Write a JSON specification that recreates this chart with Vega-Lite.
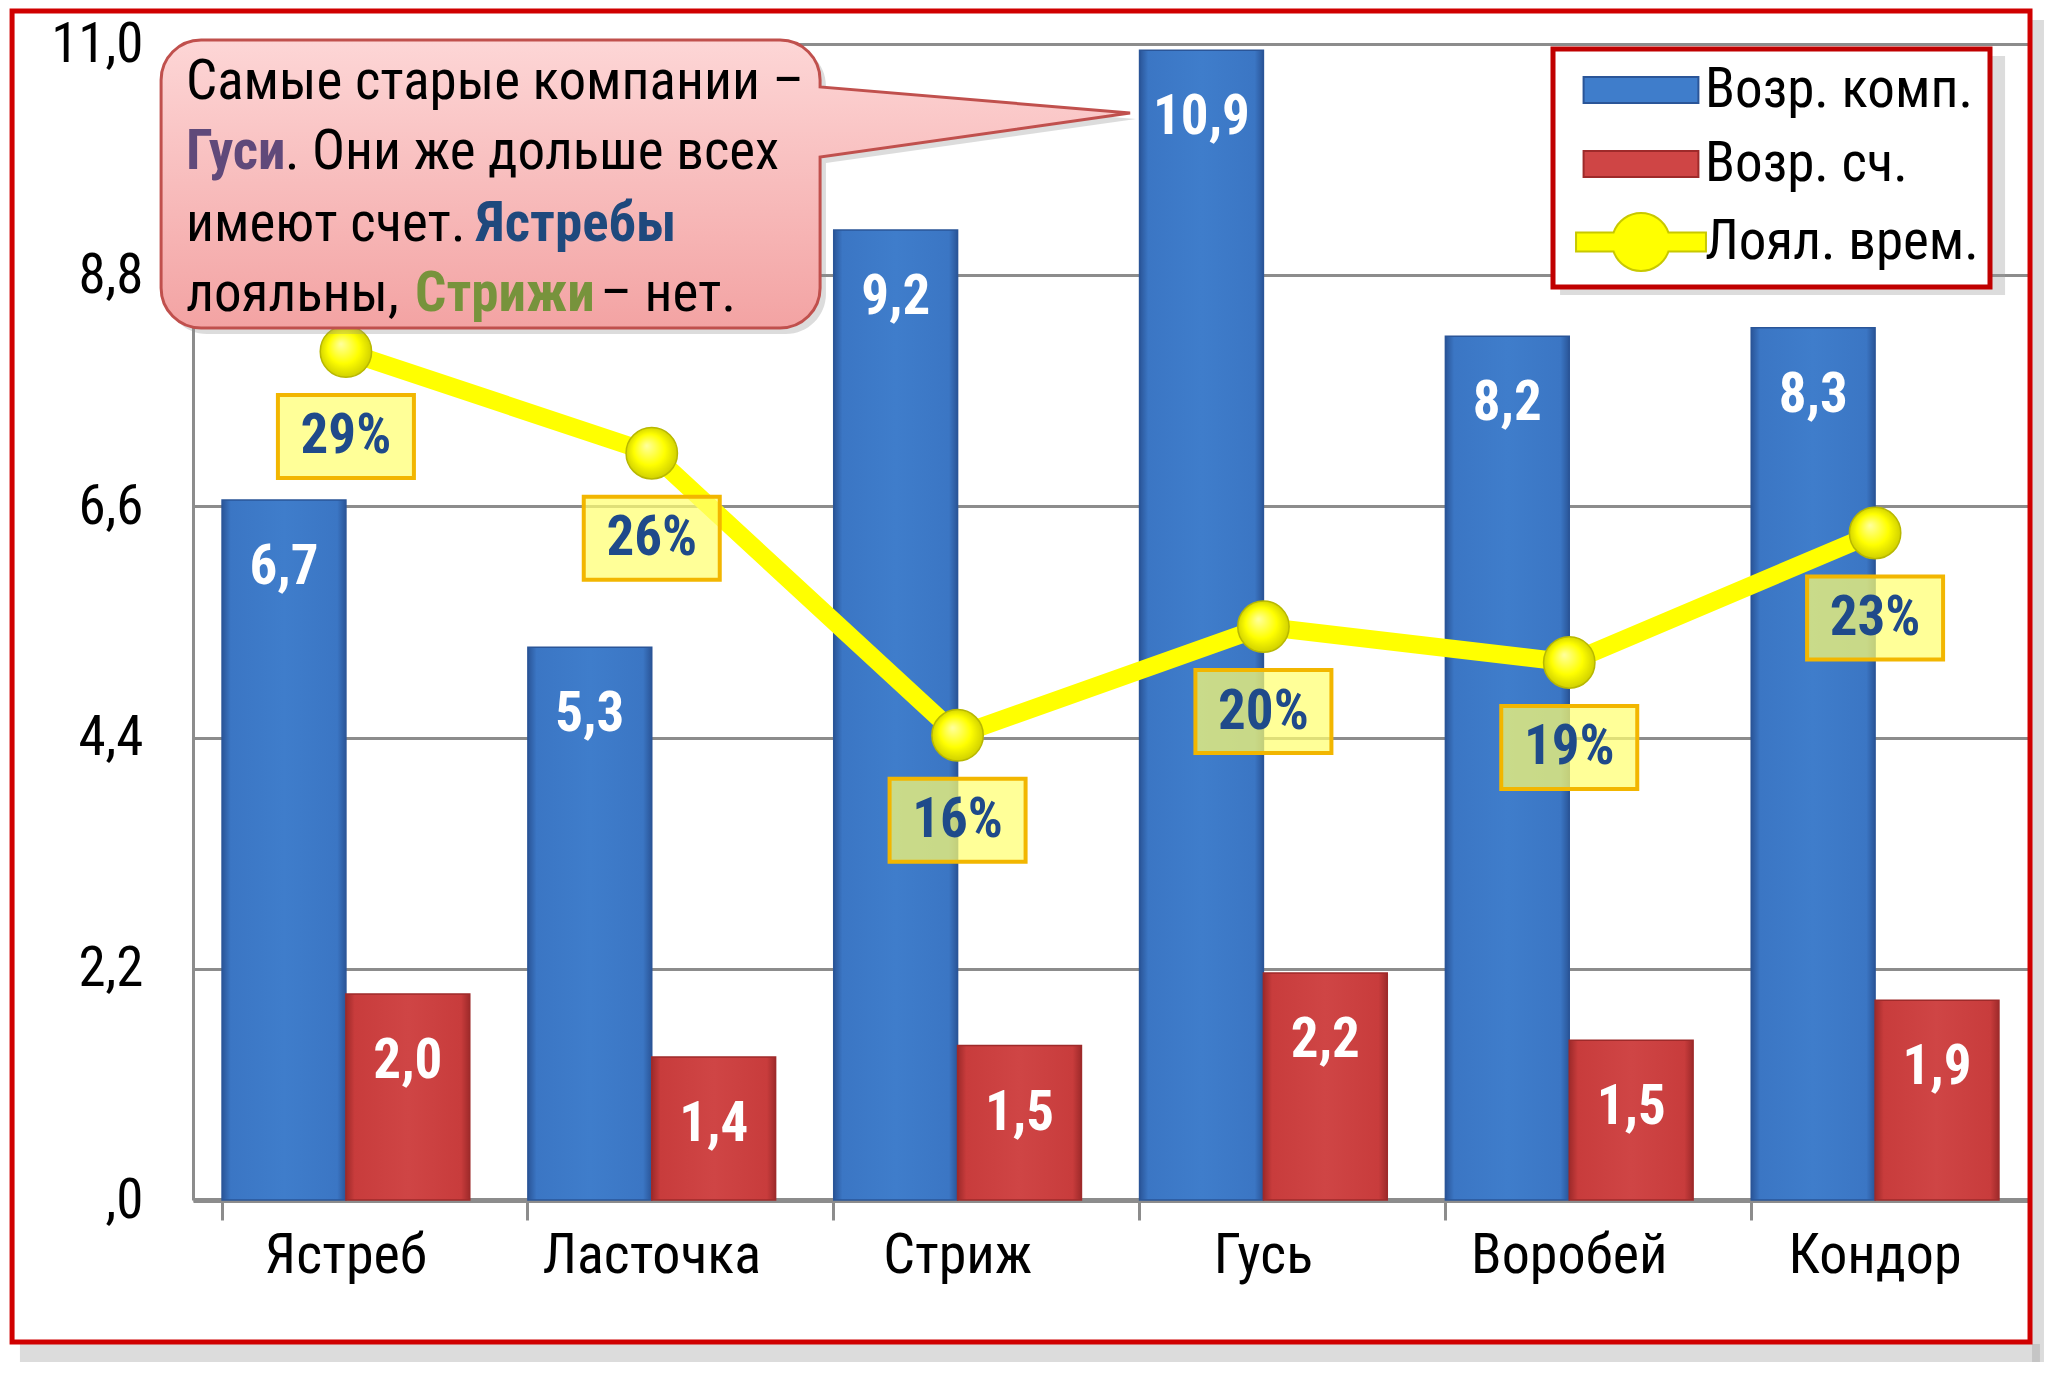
{
  "$schema": "https://vega.github.io/schema/vega-lite/v6.json",
  "width": 1835,
  "height": 1156,
  "autosize": {"type": "none"},
  "padding": {"left": 193, "top": 44, "right": 39, "bottom": 179},
  "background": "white",
  "config": {
    "locale": {"number": {"decimal": ",", "thousands": " ", "grouping": [3], "currency": ["", ""]}},
    "view": {"stroke": null},
    "font": "Roboto Condensed, Open Sans Condensed, DejaVu Sans Condensed, Liberation Sans",
    "text": {"font": "Roboto Condensed, Open Sans Condensed, DejaVu Sans Condensed, Liberation Sans"}
  },
  "datasets": {
    "bars": [
      {"bird": "Ястреб", "series": "Возр. комп.", "value": 6.66},
      {"bird": "Ястреб", "series": "Возр. сч.", "value": 1.96},
      {"bird": "Ласточка", "series": "Возр. комп.", "value": 5.26},
      {"bird": "Ласточка", "series": "Возр. сч.", "value": 1.36},
      {"bird": "Стриж", "series": "Возр. комп.", "value": 9.23},
      {"bird": "Стриж", "series": "Возр. сч.", "value": 1.47},
      {"bird": "Гусь", "series": "Возр. комп.", "value": 10.94},
      {"bird": "Гусь", "series": "Возр. сч.", "value": 2.16},
      {"bird": "Воробей", "series": "Возр. комп.", "value": 8.22},
      {"bird": "Воробей", "series": "Возр. сч.", "value": 1.52},
      {"bird": "Кондор", "series": "Возр. комп.", "value": 8.3},
      {"bird": "Кондор", "series": "Возр. сч.", "value": 1.9}
    ],
    "loyal": [
      {"bird": "Ястреб", "share": 0.2936},
      {"bird": "Ласточка", "share": 0.2584},
      {"bird": "Стриж", "share": 0.1608},
      {"bird": "Гусь", "share": 0.1984},
      {"bird": "Воробей", "share": 0.186},
      {"bird": "Кондор", "share": 0.2308}
    ],
    "series": [
      {"series": "Возр. комп."},
      {"series": "Возр. сч."},
      {"series": "Лоял. врем."}
    ]
  },
  "layer": [
    {
      "layer": [
        {
          "data": {"name": "bars"},
          "encoding": {
            "x": {
              "field": "bird",
              "type": "nominal",
              "sort": ["Ястреб", "Ласточка", "Стриж", "Гусь", "Воробей", "Кондор"],
              "scale": {"domain": ["Ястреб", "Ласточка", "Стриж", "Гусь", "Воробей", "Кондор"], "paddingInner": 0.19, "paddingOuter": 0.095},
              "axis": {
                "title": null,
                "bandPosition": 0,
                "labelAngle": 0,
                "labelLimit": 600,
                "labelFontSize": 56,
                "labelColor": "black",
                "labelPadding": 8,
                "domainColor": "#8C8C8C",
                "domainWidth": 5,
                "ticks": true,
                "tickSize": 20,
                "tickWidth": 3,
                "tickColor": "#8C8C8C",
                "grid": false
              }
            },
            "xOffset": {
              "field": "series",
              "type": "nominal",
              "scale": {"domain": ["Возр. комп.", "Возр. сч."], "paddingInner": 0, "paddingOuter": 0}
            },
            "y": {
              "field": "value",
              "type": "quantitative",
              "scale": {"domain": [0, 11], "nice": false, "zero": true},
              "axis": {
                "title": null,
                "values": [0, 2.2, 4.4, 6.6, 8.8, 11],
                "labelExpr": "datum.value == 0 ? ',0' : format(datum.value, '.1f')",
                "labelFontSize": 55,
                "labelColor": "black",
                "labelPadding": 50,
                "ticks": false,
                "tickSize": 0,
                "domainColor": "#8C8C8C",
                "domainWidth": 3,
                "grid": true,
                "gridColor": "#8C8C8C",
                "gridWidth": 3
              }
            }
          },
          "layer": [
            {
              "mark": {"type": "bar", "strokeWidth": 1.5},
              "encoding": {
                "fill": {
                  "condition": {
                    "test": "datum.series == 'Возр. комп.'",
                    "value": {
                      "gradient": "linear", "x1": 0, "y1": 0, "x2": 1, "y2": 0,
                      "stops": [
                        {"offset": 0, "color": "#2A5598"},
                        {"offset": 0.07, "color": "#3B76C4"},
                        {"offset": 0.5, "color": "#3F7DCB"},
                        {"offset": 0.93, "color": "#3B76C4"},
                        {"offset": 1, "color": "#2A5598"}
                      ]
                    }
                  },
                  "value": {
                    "gradient": "linear", "x1": 0, "y1": 0, "x2": 1, "y2": 0,
                    "stops": [
                      {"offset": 0, "color": "#9E2A2A"},
                      {"offset": 0.07, "color": "#C83C3C"},
                      {"offset": 0.5, "color": "#CF4545"},
                      {"offset": 0.93, "color": "#C83C3C"},
                      {"offset": 1, "color": "#9E2A2A"}
                    ]
                  }
                },
                "stroke": {
                  "condition": {"test": "datum.series == 'Возр. комп.'", "value": "#2A5598"},
                  "value": "#9E2A2A"
                }
              }
            },
            {
              "mark": {"type": "text", "baseline": "alphabetic", "dy": 84, "fontSize": 55, "fontWeight": "bold", "color": "white"},
              "encoding": {
                "text": {"field": "value", "type": "quantitative", "format": ".1f"}
              }
            }
          ]
        },
        {
          "data": {"name": "loyal"},
          "encoding": {
            "x": {
              "field": "bird",
              "type": "nominal",
              "sort": ["Ястреб", "Ласточка", "Стриж", "Гусь", "Воробей", "Кондор"],
              "scale": {"domain": ["Ястреб", "Ласточка", "Стриж", "Гусь", "Воробей", "Кондор"], "paddingInner": 0.19, "paddingOuter": 0.095}
            },
            "y": {
              "field": "share",
              "type": "quantitative",
              "scale": {"domain": [0, 0.4], "nice": false},
              "axis": null
            }
          },
          "layer": [
            {
              "mark": {"type": "line", "color": "#FFFF00", "strokeWidth": 18, "strokeCap": "round", "strokeJoin": "round"}
            },
            {
              "mark": {
                "type": "point",
                "filled": true,
                "size": 2640,
                "opacity": 1,
                "stroke": "#B8B800",
                "strokeWidth": 1.5,
                "fill": {
                  "gradient": "radial", "x1": 0.4, "y1": 0.35, "r1": 0, "x2": 0.5, "y2": 0.5, "r2": 0.55,
                  "stops": [
                    {"offset": 0, "color": "#FFFFA0"},
                    {"offset": 0.55, "color": "#FFFF00"},
                    {"offset": 1, "color": "#C8C800"}
                  ]
                }
              }
            },
            {
              "mark": {
                "type": "point",
                "shape": "M-1.36,0.87H1.36V2.53H-1.36Z",
                "size": 10000,
                "filled": true,
                "fill": "#FFFF70",
                "fillOpacity": 0.72,
                "opacity": 1,
                "stroke": "#F2B600",
                "strokeWidth": 4
              }
            },
            {
              "mark": {"type": "text", "baseline": "middle", "dy": 85, "fontSize": 55, "fontWeight": "bold", "color": "#1F4A8A"},
              "encoding": {
                "text": {"field": "share", "type": "quantitative", "format": ".0%"}
              }
            }
          ]
        }
      ],
      "resolve": {"scale": {"y": "independent"}}
    },
    {
      "data": {"values": [{}]},
      "layer": [
        {
          "mark": {"type": "rect", "fill": "#9A9A9A", "opacity": 0.35},
          "encoding": {
            "x": {"datum": -0.0943, "type": "quantitative", "scale": {"domain": [0, 1], "nice": false, "zero": false}, "axis": null},
            "x2": {"datum": 1.0065},
            "y": {"datum": -0.1246, "type": "quantitative", "scale": {"domain": [0, 1], "nice": false, "zero": false}, "axis": null},
            "y2": {"datum": -0.1401}
          }
        },
        {
          "mark": {"type": "rect", "fill": "#9A9A9A", "opacity": 0.35},
          "encoding": {
            "x": {"datum": 1.0022, "type": "quantitative", "scale": {"domain": [0, 1], "nice": false, "zero": false}, "axis": null},
            "x2": {"datum": 1.0087},
            "y": {"datum": 1.0208, "type": "quantitative", "scale": {"domain": [0, 1], "nice": false, "zero": false}, "axis": null},
            "y2": {"datum": -0.1401}
          }
        },
        {
          "mark": {"type": "rect", "fill": null, "stroke": "#D00000", "strokeWidth": 5},
          "encoding": {
            "x": {"datum": -0.0986, "type": "quantitative", "scale": {"domain": [0, 1], "nice": false, "zero": false}, "axis": null},
            "x2": {"datum": 1.0011},
            "y": {"datum": 1.0285, "type": "quantitative", "scale": {"domain": [0, 1], "nice": false, "zero": false}, "axis": null},
            "y2": {"datum": -0.1228}
          }
        },
        {
          "mark": {"type": "rect", "fill": "#9A9A9A", "opacity": 0.35},
          "encoding": {
            "x": {"datum": 0.745, "type": "quantitative", "scale": {"domain": [0, 1], "nice": false, "zero": false}, "axis": null},
            "x2": {"datum": 0.9875},
            "y": {"datum": 0.9896, "type": "quantitative", "scale": {"domain": [0, 1], "nice": false, "zero": false}, "axis": null},
            "y2": {"datum": 0.7829}
          }
        },
        {
          "mark": {
            "type": "point",
            "shape": "M-2.89,-1.44H2.9A0.4,0.4 0 0,1 3.3,-1.04V-0.97L6.4,-0.71L3.3,-0.27V1.04A0.4,0.4 0 0,1 2.9,1.44H-2.89A0.4,0.4 0 0,1 -3.29,1.04V-1.04A0.4,0.4 0 0,1 -2.89,-1.44Z",
            "size": 40000,
            "filled": true,
            "fill": "#8A8A8A",
            "opacity": 0.3,
            "strokeWidth": 0
          },
          "encoding": {
            "x": {"datum": 0.1651, "type": "quantitative", "scale": {"domain": [0, 1], "nice": false, "zero": false}, "axis": null},
            "y": {"datum": 0.8737, "type": "quantitative", "scale": {"domain": [0, 1], "nice": false, "zero": false}, "axis": null}
          }
        },
        {
          "mark": {
            "type": "point",
            "shape": "M-2.89,-1.44H2.9A0.4,0.4 0 0,1 3.3,-1.04V-0.97L6.4,-0.71L3.3,-0.27V1.04A0.4,0.4 0 0,1 2.9,1.44H-2.89A0.4,0.4 0 0,1 -3.29,1.04V-1.04A0.4,0.4 0 0,1 -2.89,-1.44Z",
            "size": 40000,
            "filled": true,
            "opacity": 1,
            "fill": {
              "gradient": "linear", "x1": 0, "y1": 0, "x2": 0, "y2": 1,
              "stops": [
                {"offset": 0, "color": "#FDD6D6"},
                {"offset": 1, "color": "#F3A3A3"}
              ]
            },
            "stroke": "#C0504D",
            "strokeWidth": 3
          },
          "encoding": {
            "x": {"datum": 0.1619, "type": "quantitative", "scale": {"domain": [0, 1], "nice": false, "zero": false}, "axis": null},
            "y": {"datum": 0.8789, "type": "quantitative", "scale": {"domain": [0, 1], "nice": false, "zero": false}, "axis": null}
          }
        },
        {
          "mark": {"type": "text", "align": "left", "baseline": "alphabetic", "fontSize": 55, "color": "black", "text": "Самые старые компании –"},
          "encoding": {
            "x": {"datum": -0.0038, "type": "quantitative", "scale": {"domain": [0, 1], "nice": false, "zero": false}, "axis": null},
            "y": {"datum": 0.9524, "type": "quantitative", "scale": {"domain": [0, 1], "nice": false, "zero": false}, "axis": null}
          }
        },
        {
          "mark": {"type": "text", "align": "left", "baseline": "alphabetic", "fontSize": 55, "fontWeight": "bold", "color": "#60497A", "text": "Гуси"},
          "encoding": {
            "x": {"datum": -0.0038, "type": "quantitative", "scale": {"domain": [0, 1], "nice": false, "zero": false}, "axis": null},
            "y": {"datum": 0.8919, "type": "quantitative", "scale": {"domain": [0, 1], "nice": false, "zero": false}, "axis": null}
          }
        },
        {
          "mark": {"type": "text", "align": "left", "baseline": "alphabetic", "fontSize": 55, "color": "black", "text": ". Они же дольше всех"},
          "encoding": {
            "x": {"datum": 0.0501, "type": "quantitative", "scale": {"domain": [0, 1], "nice": false, "zero": false}, "axis": null},
            "y": {"datum": 0.8919, "type": "quantitative", "scale": {"domain": [0, 1], "nice": false, "zero": false}, "axis": null}
          }
        },
        {
          "mark": {"type": "text", "align": "left", "baseline": "alphabetic", "fontSize": 55, "color": "black", "text": "имеют счет."},
          "encoding": {
            "x": {"datum": -0.0038, "type": "quantitative", "scale": {"domain": [0, 1], "nice": false, "zero": false}, "axis": null},
            "y": {"datum": 0.8296, "type": "quantitative", "scale": {"domain": [0, 1], "nice": false, "zero": false}, "axis": null}
          }
        },
        {
          "mark": {"type": "text", "align": "left", "baseline": "alphabetic", "fontSize": 55, "fontWeight": "bold", "color": "#1F497D", "text": "Ястребы"},
          "encoding": {
            "x": {"datum": 0.1542, "type": "quantitative", "scale": {"domain": [0, 1], "nice": false, "zero": false}, "axis": null},
            "y": {"datum": 0.8296, "type": "quantitative", "scale": {"domain": [0, 1], "nice": false, "zero": false}, "axis": null}
          }
        },
        {
          "mark": {"type": "text", "align": "left", "baseline": "alphabetic", "fontSize": 55, "color": "black", "text": "лояльны,"},
          "encoding": {
            "x": {"datum": -0.0038, "type": "quantitative", "scale": {"domain": [0, 1], "nice": false, "zero": false}, "axis": null},
            "y": {"datum": 0.769, "type": "quantitative", "scale": {"domain": [0, 1], "nice": false, "zero": false}, "axis": null}
          }
        },
        {
          "mark": {"type": "text", "align": "center", "baseline": "alphabetic", "fontSize": 55, "fontWeight": "bold", "color": "#77933C", "text": "Стрижи"},
          "encoding": {
            "x": {"datum": 0.17, "type": "quantitative", "scale": {"domain": [0, 1], "nice": false, "zero": false}, "axis": null},
            "y": {"datum": 0.769, "type": "quantitative", "scale": {"domain": [0, 1], "nice": false, "zero": false}, "axis": null}
          }
        },
        {
          "mark": {"type": "text", "align": "right", "baseline": "alphabetic", "fontSize": 55, "color": "black", "text": "– нет."},
          "encoding": {
            "x": {"datum": 0.2959, "type": "quantitative", "scale": {"domain": [0, 1], "nice": false, "zero": false}, "axis": null},
            "y": {"datum": 0.769, "type": "quantitative", "scale": {"domain": [0, 1], "nice": false, "zero": false}, "axis": null}
          }
        },
        {
          "data": {"name": "series"},
          "mark": {"type": "point", "opacity": 0, "filled": true},
          "encoding": {
            "x": {"datum": 0.5, "type": "quantitative", "scale": {"domain": [0, 1], "nice": false, "zero": false}, "axis": null},
            "y": {"datum": 0.5, "type": "quantitative", "scale": {"domain": [0, 1], "nice": false, "zero": false}, "axis": null},
            "fill": {
              "field": "series",
              "type": "nominal",
              "scale": {"domain": ["Возр. комп.", "Возр. сч.", "Лоял. врем."], "range": ["#3F7DCB", "#CF4545", "#FFFF00"]},
              "legend": {
                "orient": "none",
                "legendX": 1360,
                "legendY": 5,
                "title": null,
                "padding": 11,
                "rowPadding": 16,
                "symbolSize": 3364,
                "symbolOffset": 47,
                "labelOffset": 34,
                "labelFontSize": 55,
                "labelColor": "black",
                "labelLimit": 0,
                "strokeColor": "#C00000",
                "fillColor": "white",
                "encode": {
                  "legend": {
                    "update": {"strokeWidth": {"value": 5}}
                  },
                  "symbols": {
                    "update": {
                      "shape": {"signal": "datum.value === 'Лоял. врем.' ? 'M-2.24,-0.33H-0.944A1,1 0 0,1 0.944,-0.33H2.24V0.33H0.944A1,1 0 0,1 -0.944,0.33H-2.24Z' : 'M-1.98,-0.45H1.98V0.45H-1.98Z'"},
                      "fill": {"signal": "datum.value === 'Возр. комп.' ? '#3F7DCB' : datum.value === 'Возр. сч.' ? '#CF4545' : '#FFFF00'"},
                      "stroke": {"signal": "datum.value === 'Возр. комп.' ? '#2A5598' : datum.value === 'Возр. сч.' ? '#9E2A2A' : '#C8C800'"},
                      "strokeWidth": {"value": 2},
                      "opacity": {"value": 1},
                      "fillOpacity": {"value": 1}
                    }
                  }
                }
              }
            }
          }
        }
      ]
    }
  ],
  "resolve": {"scale": {"x": "independent", "y": "independent"}}
}
